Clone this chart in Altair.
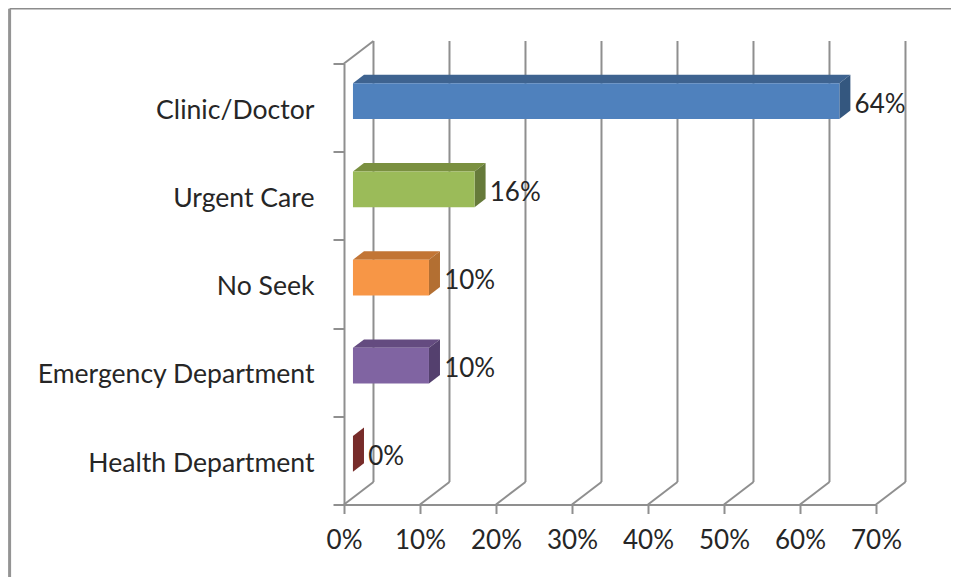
import altair as alt
import pandas as pd

# ---- values (bottom to top)
categories = ["Health Department", "Emergency Department", "No Seek", "Urgent Care", "Clinic/Doctor"]
values = [0, 10, 10, 16, 64]
value_labels = ["0%", "10%", "10%", "16%", "64%"]
front_colors = ["#772c2a", "#8064a2", "#f79646", "#9bbb59", "#4f81bd"]
top_colors = ["#772c2a", "#644b80", "#c27535", "#7a9040", "#3e6390"]
side_colors = ["#772c2a", "#54406e", "#b36f32", "#667a3a", "#34577f"]
x_ticks = [0, 10, 20, 30, 40, 50, 60, 70]
y_edges = [0, 1, 2, 3, 4, 5]

# ---- pseudo-3D geometry, in axis units
WALL_DX, WALL_DY = 3.88, 0.255
BAR_BASE = 1.18
BAR_DX, BAR_DY = 1.45, 0.096
BAR_LO, BAR_HI = 0.371, 0.776
LABEL_DX, LABEL_DY = 2.0, 0.035
FRAME_L, FRAME_R, FRAME_T, FRAME_B = -44.0, 80.9, 5.62, -0.822

GRID = "#8f8f8f"
TEXT = "#262626"
FONT = "Lato"
SIZE = 26

xs = alt.Scale(domain=[0, 70], nice=False, zero=False)
ys = alt.Scale(domain=[0, 5], nice=False, zero=False)

X = lambda f, **k: alt.X(f, type="quantitative", scale=xs, **k)
Y = lambda f, **k: alt.Y(f, type="quantitative", scale=ys, **k)

label_expr = "[" + ",".join(f"'{c}'" for c in categories) + ",''][datum.value]"

# frame
frame_df = pd.DataFrame({"a": [FRAME_L], "b": [FRAME_R], "t": [FRAME_T], "bt": [FRAME_B]})
frame_top = alt.Chart(frame_df).mark_rule(color="#8c8c8c", strokeWidth=1.6).encode(
    x=X("a"), x2="b", y=Y("t"))
frame_left = alt.Chart(frame_df).mark_rule(color="#949494", strokeWidth=3).encode(
    x=X("a"), y=Y("t"), y2="bt")

# axes carrier
axis_df = pd.DataFrame({"x": [0], "y": [0]})
axes = alt.Chart(axis_df).mark_point(opacity=0).encode(
    x=X("x", axis=alt.Axis(
        values=x_ticks, format=".0f", labelExpr="datum.value + '%'", title=None, grid=False,
        domainColor=GRID, domainWidth=2, tickColor=GRID, tickWidth=2, tickSize=9,
        labelFont=FONT, labelFontSize=SIZE, labelColor=TEXT, labelPadding=14,
        labelFlush=False, labelOverlap=False)),
    y=Y("y", axis=alt.Axis(
        values=y_edges, labelExpr=label_expr, title=None, grid=False, labelOffset=-41.5,
        domainColor=GRID, domainWidth=2, tickColor=GRID, tickWidth=2, tickSize=11,
        labelFont=FONT, labelFontSize=26.6, labelColor=TEXT, labelPadding=19, labelLimit=400,
        labelBaseline="middle", labelFlush=False, labelOverlap=False)),
)

# walls
ticks_df = pd.DataFrame({"x": x_ticks})
ticks_df["xb"] = ticks_df.x + WALL_DX
ticks_df["y0"] = 0
ticks_df["yb"] = WALL_DY
ticks_df["yt"] = 5 + WALL_DY
floor = alt.Chart(ticks_df).mark_rule(color=GRID, strokeWidth=2).encode(
    x=X("x"), x2="xb", y=Y("y0"), y2="yb")
back = alt.Chart(ticks_df).mark_rule(color=GRID, strokeWidth=2).encode(
    x=X("xb"), y=Y("yb"), y2="yt")
corner_df = pd.DataFrame({"x": [0], "x2": [WALL_DX], "y": [5], "y2": [5 + WALL_DY]})
corner = alt.Chart(corner_df).mark_rule(color=GRID, strokeWidth=2).encode(
    x=X("x"), x2="x2", y=Y("y"), y2="y2")

# bars
front_rows, top_rows, side_rows, label_rows = [], [], [], []
for r, (c, v, lab, fc, tc, sc) in enumerate(zip(categories, values, value_labels, front_colors, top_colors, side_colors)):
    lo, hi = r + BAR_LO, r + BAR_HI
    x0, x1 = BAR_BASE, BAR_BASE + v
    front_rows.append({"c": c, "x": x0, "x2": x1, "y": lo, "y2": hi, "col": fc})
    top_rows += [
        {"c": c, "y": hi, "x": x0, "x2": x1, "col": tc},
        {"c": c, "y": hi + BAR_DY, "x": x0 + BAR_DX, "x2": x1 + BAR_DX, "col": tc},
    ]
    side_rows += [
        {"c": c, "x": x1, "y": lo, "y2": hi, "col": sc},
        {"c": c, "x": x1 + BAR_DX, "y": lo + BAR_DY, "y2": hi + BAR_DY, "col": sc},
    ]
    label_rows.append({"x": x1 + LABEL_DX, "y": r + 0.5 + LABEL_DY, "t": lab})

fill = alt.Color("col:N", scale=None, legend=None)
tops = alt.Chart(pd.DataFrame(top_rows)).mark_area(orient="horizontal").encode(
    y=Y("y"), x=X("x"), x2="x2", detail="c:N", color=fill)
sides = alt.Chart(pd.DataFrame(side_rows)).mark_area(orient="vertical").encode(
    x=X("x"), y=Y("y"), y2="y2", detail="c:N", color=fill)
fronts = alt.Chart(pd.DataFrame(front_rows)).mark_rect().encode(
    x=X("x"), x2="x2", y=Y("y"), y2="y2", color=fill)
labels = alt.Chart(pd.DataFrame(label_rows)).mark_text(
    align="left", baseline="middle", font=FONT, fontSize=SIZE, color=TEXT).encode(
    x=X("x"), y=Y("y"), text="t:N")

chart = alt.layer(axes, frame_top, frame_left, back, floor, corner, tops, sides, fronts, labels).properties(
    width=532, height=441,
    padding={"left": 336, "right": 75, "top": 55.5, "bottom": 72.5},
    autosize=alt.AutoSizeParams(type="none"),
    background="white",
).configure_view(stroke=None)

chart.save("out.html", embed_options={"renderer": "svg", "actions": False})
